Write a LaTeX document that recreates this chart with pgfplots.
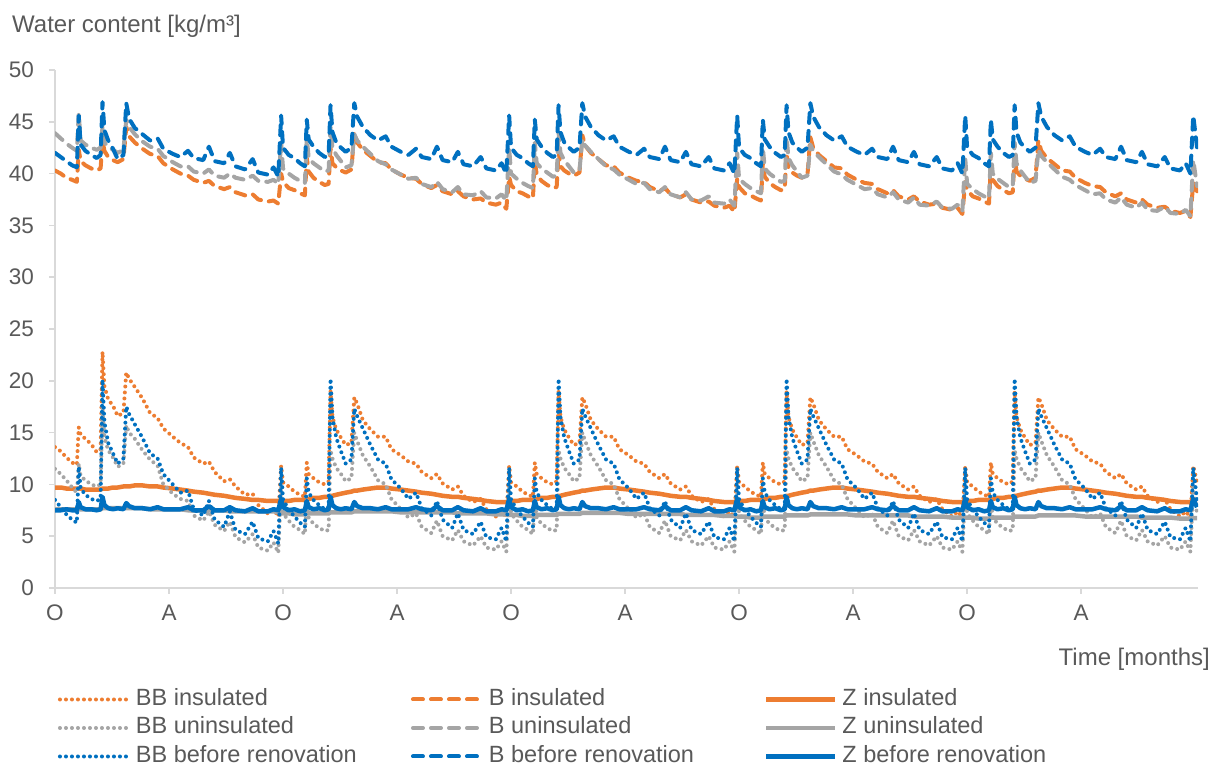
\documentclass[border=0pt]{standalone}
\usepackage{pgfplots}
\pgfplotsset{compat=1.18}
\usepackage{pgfplotstable}
\usepackage{fontspec}
\setmainfont{Liberation Sans}
\definecolor{cO}{HTML}{ED7D31}
\definecolor{cG}{HTML}{A5A5A5}
\definecolor{cB}{HTML}{0070C0}
\definecolor{cT}{HTML}{595959}
\definecolor{cA}{HTML}{D9D9D9}

\pgfplotstableread{
t BBi Bi Zi BBu Bu Zu BBb Bb Zb
0.0 13.6 40.3 9.7 11.5 43.9 7.6 8.5 42.0 7.5
0.3 13.2 40.0 9.7 11.0 43.4 7.6 7.8 41.6 7.5
0.6 12.6 39.6 9.6 10.4 42.9 7.6 7.1 41.2 7.6
0.9 12.1 39.4 9.6 9.7 42.5 7.6 6.6 40.8 7.5
1.15 11.9 39.2 9.6 9.2 42.2 7.6 6.3 40.6 7.5
1.25 15.5 42.3 9.6 12.0 45.8 7.6 11.7 45.6 8.3
1.35 14.8 41.2 9.6 10.8 43.2 7.6 9.6 42.8 7.8
1.6 14.4 40.8 9.5 10.4 42.8 7.6 9.0 42.2 7.6
1.9 13.9 40.5 9.5 10.0 42.5 7.6 8.6 41.8 7.6
2.2 13.1 40.3 9.5 9.8 42.3 7.6 8.4 41.5 7.5
2.4 13.4 40.5 9.5 10.0 42.5 7.6 8.6 41.8 7.6
2.5 22.8 43.2 9.6 17.5 44.5 7.7 20.1 46.9 8.8
2.6 19.5 42.2 9.6 14.5 43.0 7.7 16.0 44.2 8.0
2.8 18.2 41.6 9.6 13.3 42.6 7.7 14.0 43.2 7.7
3.05 17.6 41.3 9.7 12.6 42.3 7.7 13.0 42.4 7.6
3.3 16.6 41.1 9.7 11.7 42.0 7.7 12.0 41.4 7.7
3.6 16.9 41.4 9.8 12.0 42.3 7.7 12.5 41.8 7.6
3.75 20.8 44.5 9.8 15.7 45.2 7.7 17.5 46.8 8.2
3.9 20.2 43.6 9.8 15.0 44.5 7.7 16.8 45.3 7.9
4.2 19.4 43.0 9.9 14.4 43.8 7.7 15.8 44.4 7.7
4.6 18.3 42.4 9.9 13.3 43.1 7.7 14.5 43.8 7.7
5.0 16.9 41.9 9.8 12.4 42.6 7.6 13.0 43.2 7.6
5.4 16.4 41.7 9.8 11.8 42.4 7.6 12.5 43.4 7.8
5.7 15.4 41.0 9.7 10.0 41.7 7.6 11.0 42.4 7.6
6.2 14.6 40.4 9.6 9.1 41.1 7.6 10.0 41.9 7.6
6.6 14.0 40.0 9.5 8.6 40.7 7.6 9.2 41.6 7.6
7.0 13.6 39.8 9.4 8.4 40.7 7.5 9.4 42.2 7.8
7.3 12.6 39.4 9.3 7.0 40.2 7.5 7.6 41.5 7.5
7.8 12.0 39.1 9.2 6.5 40.0 7.5 7.0 41.3 7.5
8.1 12.2 39.3 9.1 7.4 40.4 7.5 8.4 42.6 7.9
8.4 11.2 38.8 9.0 6.1 39.8 7.5 6.6 41.2 7.5
8.9 10.3 38.5 8.9 5.5 39.6 7.5 5.9 41.0 7.5
9.2 10.5 38.7 8.8 6.4 40.0 7.4 7.4 42.0 7.8
9.5 9.8 38.2 8.7 4.9 39.6 7.4 5.6 40.7 7.5
10.0 9.0 37.9 8.6 4.4 39.4 7.4 5.2 40.4 7.4
10.4 9.1 38.0 8.5 5.2 39.8 7.4 6.4 41.4 7.7
10.7 8.0 37.5 8.5 3.9 39.3 7.4 4.8 40.1 7.4
11.2 7.2 37.3 8.4 3.6 39.2 7.4 4.5 39.9 7.4
11.5 7.6 37.4 8.4 4.4 39.4 7.4 5.5 40.6 7.6
11.75 6.9 37.1 8.4 3.4 39.0 7.3 4.3 39.7 7.5
11.9 11.8 40.0 8.4 9.8 43.0 7.2 11.6 45.6 8.6
12.0 10.2 39.2 8.4 7.2 40.5 7.2 8.5 42.5 7.8
12.3 9.8 38.6 8.4 6.5 40.0 7.2 7.6 41.8 7.5
12.6 9.3 38.4 8.5 5.9 39.6 7.1 6.9 41.5 7.6
12.9 9.0 38.1 8.5 5.6 39.3 7.1 6.3 41.0 7.4
13.15 8.8 37.9 8.5 5.2 39.1 7.1 5.9 40.7 7.5
13.25 12.1 41.5 8.6 8.5 43.5 7.2 10.6 45.2 8.4
13.35 11.0 40.2 8.6 6.8 41.5 7.2 9.2 43.3 7.8
13.6 10.6 39.6 8.7 6.2 41.0 7.2 8.5 42.6 7.6
13.9 10.2 39.2 8.7 5.8 40.6 7.2 8.0 42.0 7.7
14.2 10.0 38.9 8.8 5.5 40.2 7.2 7.6 41.6 7.5
14.4 10.3 39.0 8.8 5.6 40.3 7.2 7.8 41.8 7.6
14.5 19.0 42.5 8.9 13.3 44.5 7.3 20.2 46.6 8.8
14.6 16.5 41.0 8.9 12.5 42.5 7.3 16.5 44.0 8.0
14.8 15.3 40.6 9.0 11.6 41.8 7.3 14.5 43.0 7.7
15.05 14.5 40.3 9.1 11.0 41.2 7.3 13.2 42.5 7.6
15.3 13.8 40.1 9.2 10.3 40.6 7.3 12.0 42.1 7.7
15.6 14.0 40.4 9.3 10.6 40.8 7.3 12.4 42.5 7.6
15.75 18.4 44.0 9.4 15.0 43.8 7.4 17.3 46.8 8.3
15.9 17.8 43.0 9.4 14.2 43.2 7.4 16.6 45.5 7.9
16.2 16.2 42.3 9.5 12.8 42.6 7.4 15.4 44.5 7.7
16.6 15.3 41.7 9.6 11.7 41.9 7.4 13.8 43.7 7.7
17.0 14.6 41.1 9.7 10.4 41.2 7.4 12.4 43.2 7.6
17.4 14.6 41.0 9.7 10.0 40.9 7.4 12.0 43.6 7.8
17.7 13.4 40.4 9.6 8.6 40.4 7.4 10.5 42.6 7.6
18.2 12.8 39.9 9.5 7.6 39.9 7.3 9.6 42.1 7.6
18.6 12.2 39.6 9.4 6.8 39.5 7.3 8.6 41.8 7.6
19.0 12.0 39.5 9.3 7.2 39.6 7.3 9.2 42.4 7.8
19.3 11.2 39.0 9.2 5.9 39.0 7.3 7.7 41.6 7.6
19.8 10.6 38.6 9.1 5.3 38.7 7.3 7.0 41.4 7.5
20.1 11.0 38.9 9.0 6.5 39.2 7.3 8.4 42.6 7.9
20.4 10.1 38.3 8.9 5.0 38.5 7.3 6.6 41.3 7.5
20.9 9.5 38.0 8.8 4.6 38.2 7.3 5.8 41.1 7.5
21.2 9.8 38.3 8.8 5.6 38.7 7.2 7.2 42.1 7.8
21.5 8.9 37.8 8.7 4.5 38.0 7.2 5.6 40.9 7.5
22.0 8.3 37.5 8.6 4.1 37.9 7.2 5.2 40.7 7.4
22.4 8.6 37.6 8.5 5.0 38.3 7.2 6.4 41.6 7.7
22.7 7.6 37.2 8.4 3.9 37.7 7.2 4.9 40.5 7.4
23.2 6.9 37.0 8.3 3.7 37.6 7.1 4.7 40.3 7.4
23.5 7.4 37.2 8.3 4.5 38.0 7.1 5.8 41.0 7.6
23.75 6.8 36.6 8.3 3.5 37.4 7.1 4.5 40.0 7.5
23.9 11.8 39.7 8.4 9.8 42.5 7.05 11.6 45.6 8.6
24.0 10.2 38.9 8.4 7.2 40.0 7.05 8.5 42.5 7.8
24.3 9.8 38.3 8.4 6.5 39.5 7.05 7.6 41.8 7.5
24.6 9.3 38.1 8.5 5.9 39.1 6.95 6.9 41.5 7.6
24.9 9.0 37.8 8.5 5.6 38.8 6.95 6.3 41.0 7.4
25.15 8.8 37.6 8.5 5.2 38.6 6.95 5.9 40.7 7.5
25.25 12.1 41.2 8.6 8.5 43.0 7.05 10.6 45.2 8.4
25.35 11.0 39.9 8.6 6.8 41.0 7.05 9.2 43.3 7.8
25.6 10.6 39.3 8.7 6.2 40.5 7.05 8.5 42.6 7.6
25.9 10.2 38.9 8.7 5.8 40.1 7.05 8.0 42.0 7.7
26.2 10.0 38.6 8.8 5.5 39.7 7.05 7.6 41.6 7.5
26.4 10.3 38.7 8.8 5.6 39.8 7.05 7.8 41.8 7.6
26.5 19.0 42.2 8.9 13.3 44.0 7.15 20.2 46.6 8.8
26.6 16.5 40.7 8.9 12.5 42.0 7.15 16.5 44.0 8.0
26.8 15.3 40.3 9.0 11.6 41.3 7.15 14.5 43.0 7.7
27.05 14.5 40.0 9.1 11.0 40.7 7.15 13.2 42.5 7.6
27.3 13.8 39.8 9.2 10.3 40.1 7.15 12.0 42.1 7.7
27.6 14.0 40.1 9.3 10.6 40.3 7.15 12.4 42.5 7.6
27.75 18.4 43.7 9.4 15.0 43.3 7.25 17.3 46.8 8.3
27.9 17.8 42.7 9.4 14.2 42.7 7.25 16.6 45.5 7.9
28.2 16.2 42.0 9.5 12.8 42.1 7.25 15.4 44.5 7.7
28.6 15.3 41.4 9.6 11.7 41.4 7.25 13.8 43.7 7.7
29.0 14.6 40.8 9.7 10.4 40.7 7.25 12.4 43.2 7.6
29.4 14.6 40.7 9.7 10.0 40.4 7.25 12.0 43.6 7.8
29.7 13.4 40.1 9.6 8.6 39.9 7.25 10.5 42.6 7.6
30.2 12.8 39.6 9.5 7.6 39.4 7.15 9.6 42.1 7.6
30.6 12.2 39.3 9.4 6.8 39.0 7.15 8.6 41.8 7.6
31.0 12.0 39.2 9.3 7.2 39.1 7.15 9.2 42.4 7.8
31.3 11.2 38.7 9.2 5.9 38.5 7.15 7.7 41.6 7.6
31.8 10.6 38.3 9.1 5.3 38.2 7.15 7.0 41.4 7.5
32.1 11.0 38.6 9.0 6.5 38.7 7.15 8.4 42.6 7.9
32.4 10.1 38.0 8.9 5.0 38.0 7.15 6.6 41.3 7.5
32.9 9.5 37.7 8.8 4.6 37.7 7.15 5.8 41.1 7.5
33.2 9.8 38.0 8.8 5.6 38.2 7.05 7.2 42.1 7.8
33.5 8.9 37.5 8.7 4.5 37.5 7.05 5.6 40.9 7.5
34.0 8.3 37.2 8.6 4.1 37.4 7.05 5.2 40.7 7.4
34.4 8.6 37.3 8.5 5.0 37.8 7.05 6.4 41.6 7.7
34.7 7.6 36.9 8.4 3.9 37.2 7.05 4.9 40.5 7.4
35.2 6.9 36.7 8.3 3.7 37.1 6.95 4.7 40.3 7.4
35.5 7.4 36.9 8.3 4.5 37.5 6.95 5.8 41.0 7.6
35.75 6.8 36.3 8.3 3.5 36.9 6.95 4.5 40.0 7.5
35.9 11.8 39.5 8.4 9.8 42.0 6.9 11.6 45.6 8.6
36.0 10.2 38.7 8.4 7.2 39.5 6.9 8.5 42.5 7.8
36.3 9.8 38.1 8.4 6.5 39.0 6.9 7.6 41.8 7.5
36.6 9.3 37.9 8.5 5.9 38.6 6.8 6.9 41.5 7.6
36.9 9.0 37.6 8.5 5.6 38.3 6.8 6.3 41.0 7.4
37.15 8.8 37.4 8.5 5.2 38.1 6.8 5.9 40.7 7.5
37.25 12.1 41.0 8.6 8.5 42.5 6.9 10.6 45.2 8.4
37.35 11.0 39.7 8.6 6.8 40.5 6.9 9.2 43.3 7.8
37.6 10.6 39.1 8.7 6.2 40.0 6.9 8.5 42.6 7.6
37.9 10.2 38.7 8.7 5.8 39.6 6.9 8.0 42.0 7.7
38.2 10.0 38.4 8.8 5.5 39.2 6.9 7.6 41.6 7.5
38.4 10.3 38.5 8.8 5.6 39.3 6.9 7.8 41.8 7.6
38.5 19.0 42.0 8.9 13.3 43.5 7.0 20.2 46.6 8.8
38.6 16.5 40.5 8.9 12.5 41.5 7.0 16.5 44.0 8.0
38.8 15.3 40.1 9.0 11.6 40.8 7.0 14.5 43.0 7.7
39.05 14.5 39.8 9.1 11.0 40.2 7.0 13.2 42.5 7.6
39.3 13.8 39.6 9.2 10.3 39.6 7.0 12.0 42.1 7.7
39.6 14.0 39.9 9.3 10.6 39.8 7.0 12.4 42.5 7.6
39.75 18.4 43.5 9.4 15.0 42.8 7.1 17.3 46.8 8.3
39.9 17.8 42.5 9.4 14.2 42.2 7.1 16.6 45.5 7.9
40.2 16.2 41.8 9.5 12.8 41.6 7.1 15.4 44.5 7.7
40.6 15.3 41.2 9.6 11.7 40.9 7.1 13.8 43.7 7.7
41.0 14.6 40.6 9.7 10.4 40.2 7.1 12.4 43.2 7.6
41.4 14.6 40.5 9.7 10.0 39.9 7.1 12.0 43.6 7.8
41.7 13.4 39.9 9.6 8.6 39.4 7.1 10.5 42.6 7.6
42.2 12.8 39.4 9.5 7.6 38.9 7.0 9.6 42.1 7.6
42.6 12.2 39.1 9.4 6.8 38.5 7.0 8.6 41.8 7.6
43.0 12.0 39.0 9.3 7.2 38.6 7.0 9.2 42.4 7.8
43.3 11.2 38.5 9.2 5.9 38.0 7.0 7.7 41.6 7.6
43.8 10.6 38.1 9.1 5.3 37.7 7.0 7.0 41.4 7.5
44.1 11.0 38.4 9.0 6.5 38.2 7.0 8.4 42.6 7.9
44.4 10.1 37.8 8.9 5.0 37.5 7.0 6.6 41.3 7.5
44.9 9.5 37.5 8.8 4.6 37.2 7.0 5.8 41.1 7.5
45.2 9.8 37.8 8.8 5.6 37.7 6.9 7.2 42.1 7.8
45.5 8.9 37.3 8.7 4.5 37.0 6.9 5.6 40.9 7.5
46.0 8.3 37.0 8.6 4.1 36.9 6.9 5.2 40.7 7.4
46.4 8.6 37.1 8.5 5.0 37.3 6.9 6.4 41.6 7.7
46.7 7.6 36.7 8.4 3.9 36.7 6.9 4.9 40.5 7.4
47.2 6.9 36.5 8.3 3.7 36.6 6.8 4.7 40.3 7.4
47.5 7.4 36.7 8.3 4.5 37.0 6.8 5.8 41.0 7.6
47.75 6.8 36.1 8.3 3.5 36.4 6.8 4.5 40.0 7.5
47.9 11.8 39.2 8.4 9.8 41.5 6.8 11.6 45.6 8.6
48.0 10.2 38.4 8.4 7.2 39.0 6.8 8.5 42.5 7.8
48.3 9.8 37.8 8.4 6.5 38.5 6.8 7.6 41.8 7.5
48.6 9.3 37.6 8.5 5.9 38.1 6.7 6.9 41.5 7.6
48.9 9.0 37.3 8.5 5.6 37.8 6.7 6.3 41.0 7.4
49.15 8.8 37.1 8.5 5.2 37.6 6.7 5.9 40.7 7.5
49.25 12.1 40.7 8.6 8.5 42.0 6.8 10.6 45.2 8.4
49.35 11.0 39.4 8.6 6.8 40.0 6.8 9.2 43.3 7.8
49.6 10.6 38.8 8.7 6.2 39.5 6.8 8.5 42.6 7.6
49.9 10.2 38.4 8.7 5.8 39.1 6.8 8.0 42.0 7.7
50.2 10.0 38.1 8.8 5.5 38.7 6.8 7.6 41.6 7.5
50.4 10.3 38.2 8.8 5.6 38.8 6.8 7.8 41.8 7.6
50.5 19.0 41.7 8.9 13.3 43.0 6.9 20.2 46.6 8.8
50.6 16.5 40.2 8.9 12.5 41.0 6.9 16.5 44.0 8.0
50.8 15.3 39.8 9.0 11.6 40.3 6.9 14.5 43.0 7.7
51.05 14.5 39.5 9.1 11.0 39.7 6.9 13.2 42.5 7.6
51.3 13.8 39.3 9.2 10.3 39.1 6.9 12.0 42.1 7.7
51.6 14.0 39.6 9.3 10.6 39.3 6.9 12.4 42.5 7.6
51.75 18.4 43.2 9.4 15.0 42.3 7.0 17.3 46.8 8.3
51.9 17.8 42.2 9.4 14.2 41.7 7.0 16.6 45.5 7.9
52.2 16.2 41.5 9.5 12.8 41.1 7.0 15.4 44.5 7.7
52.6 15.3 40.9 9.6 11.7 40.4 7.0 13.8 43.7 7.7
53.0 14.6 40.3 9.7 10.4 39.7 7.0 12.4 43.2 7.6
53.4 14.6 40.2 9.7 10.0 39.4 7.0 12.0 43.6 7.8
53.7 13.4 39.6 9.6 8.6 38.9 7.0 10.5 42.6 7.6
54.2 12.8 39.1 9.5 7.6 38.4 6.9 9.6 42.1 7.6
54.6 12.2 38.8 9.4 6.8 38.0 6.9 8.6 41.8 7.6
55.0 12.0 38.7 9.3 7.2 38.1 6.9 9.2 42.4 7.8
55.3 11.2 38.2 9.2 5.9 37.5 6.9 7.7 41.6 7.6
55.8 10.6 37.8 9.1 5.3 37.2 6.9 7.0 41.4 7.5
56.1 11.0 38.1 9.0 6.5 37.7 6.9 8.4 42.6 7.9
56.4 10.1 37.5 8.9 5.0 37.0 6.9 6.6 41.3 7.5
56.9 9.5 37.2 8.8 4.6 36.7 6.9 5.8 41.1 7.5
57.2 9.8 37.5 8.8 5.6 37.2 6.8 7.2 42.1 7.8
57.5 8.9 37.0 8.7 4.5 36.5 6.8 5.6 40.9 7.5
58.0 8.3 36.7 8.6 4.1 36.4 6.8 5.2 40.7 7.4
58.4 8.6 36.8 8.5 5.0 36.8 6.8 6.4 41.6 7.7
58.7 7.6 36.4 8.4 3.9 36.2 6.8 4.9 40.5 7.4
59.2 6.9 36.2 8.3 3.7 36.1 6.7 4.7 40.3 7.4
59.5 7.4 36.4 8.3 4.5 36.5 6.7 5.8 41.0 7.6
59.75 6.8 35.8 8.3 3.5 35.9 6.7 4.5 40.0 7.5
59.9 11.8 39.1 8.4 9.8 41.3 6.75 11.6 45.6 8.6
60.1 10.2 38.3 8.4 7.2 38.8 6.75 8.5 42.5 7.8
}\data

\tikzset{
  dotS/.style={line width=4bp, line cap=round, dash pattern=on 0bp off 6bp},
  dashS/.style={line width=4bp, line cap=round, dash pattern=on 10bp off 8bp},
  solS/.style={line width=4.5bp},
}

\begin{document}
\begin{tikzpicture}[x=1bp,y=1bp]
\path[use as bounding box] (0,0) rectangle (1220,767);
\begin{axis}[
  at={(55bp,179bp)}, anchor=south west,
  scale only axis, width=1143bp, height=518bp,
  xmin=0, xmax=60.15, ymin=0, ymax=50,
  axis x line*=bottom, axis y line*=left,
  axis line style={cA, line width=2bp},
  tick align=outside, major tick length=6bp,
  tick style={cA, line width=1.5bp},
  ytick={0,5,...,50},
  xtick={0,6,...,54},
  xticklabels={O,A,O,A,O,A,O,A,O,A},
  /pgf/number format/assume math mode=true,
  ticklabel style={font=\fontsize{22.5bp}{27bp}\selectfont, text=cT},
  yticklabel style={anchor=east, inner sep=0pt, xshift=-15bp},
  xticklabel style={anchor=north, inner sep=0pt, yshift=-11bp},
  no markers, line join=round,
  legend columns=3,
  legend cell align=left,
  legend style={at={(axis description cs:0.0026,-0.194)}, anchor=north west,
    draw=none, fill=none, inner sep=0pt, outer sep=0pt,
    row sep=6.5bp, column sep=0pt,
    font=\fontsize{23.5bp}{28bp}\selectfont, text=cT,
    nodes={inner sep=0pt, text height=17bp, text depth=5bp}},
  legend image code/.code={\draw[#1, dash phase=0bp] (0bp,0bp) -- (69bp,0bp);},
]
\addplot[cO, dotS] table[x=t,y=BBi]{\data};
\addlegendentry{\hspace{5bp}\makebox[275bp][l]{BB insulated}}
\addplot[cO, dashS] table[x=t,y=Bi]{\data};
\addlegendentry{\hspace{5bp}\makebox[275bp][l]{B insulated}}
\addplot[cO, solS] table[x=t,y=Zi]{\data};
\addlegendentry{\hspace{5bp}\makebox[275bp][l]{Z insulated}}
\addplot[cG, dotS] table[x=t,y=BBu]{\data};
\addlegendentry{\hspace{5bp}\makebox[275bp][l]{BB uninsulated}}
\addplot[cG, dashS] table[x=t,y=Bu]{\data};
\addlegendentry{\hspace{5bp}\makebox[275bp][l]{B uninsulated}}
\addplot[cG, solS] table[x=t,y=Zu]{\data};
\addlegendentry{\hspace{5bp}\makebox[275bp][l]{Z uninsulated}}
\addplot[cB, dotS] table[x=t,y=BBb]{\data};
\addlegendentry{\hspace{5bp}\makebox[275bp][l]{BB before renovation}}
\addplot[cB, dashS] table[x=t,y=Bb]{\data};
\addlegendentry{\hspace{5bp}\makebox[275bp][l]{B before renovation}}
\addplot[cB, solS] table[x=t,y=Zb]{\data};
\addlegendentry{\hspace{5bp}\makebox[275bp][l]{Z before renovation}}
\end{axis}
\node[anchor=base west, inner sep=0pt, text=cT, font=\fontsize{24bp}{29bp}\selectfont] at (12,734) {Water content [kg/m³]};
\node[anchor=base east, inner sep=0pt, text=cT, font=\fontsize{24bp}{29bp}\selectfont] at (1210,101) {Time [months]};
\end{tikzpicture}
\end{document}
